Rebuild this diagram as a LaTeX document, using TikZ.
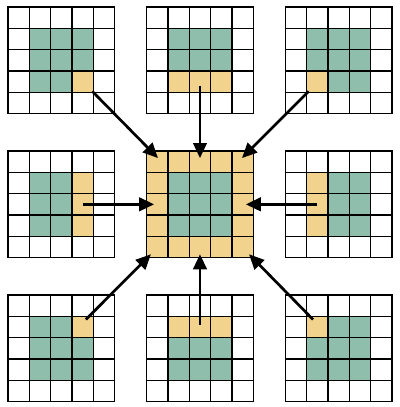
\documentclass[tikz,border=0pt]{standalone}
\usepackage{tikz}
\usetikzlibrary{arrows.meta}

\definecolor{patchgreen}{RGB}{144,190,172}
\definecolor{patchyellow}{RGB}{242,211,141}

% 5x5 grid lines of a patch
\newcommand{\PatchLines}{%
  \foreach \t in {0,...,5} {
    \draw[GridStyle] (\t,0) -- (\t,5);
    \draw[GridStyle] (0,\t) -- (5,\t);
  }}

% one 5x5 patch: origin, yellow cells, name of the arrow start, start point
\newcommand{\Patch}[5]{%
  \begin{scope}[shift={(#1,#2)}]
    \fill[patchgreen] (1,1) rectangle (4,4);
    \foreach \i/\j in {#3} \fill[patchyellow] (\i,\j) rectangle ++(1,1);
    \PatchLines
    \coordinate (#4) at (#5);
  \end{scope}}

\begin{document}
\begin{tikzpicture}[x=0.5cm,y=0.5cm]
            \tikzset{GridStyle/.style={draw=black,line width=0.9pt,line cap=rect}};
            \tikzset{ArrowStyle/.style={line width=1.8pt,-{Triangle[length=10pt,width=9pt]}}};
            \useasboundingbox (0,0) rectangle (18.75,19.08);

            \Patch{0.375}{13.75}{3/1}{p-tl}{3.95,1.05};
            \Patch{6.875}{13.75}{1/1,2/1,3/1}{p-tm}{2.5,1.3};
            \Patch{13.375}{13.75}{1/1}{p-tr}{1.1,1.05};
            \Patch{0.375}{7.0}{3/1,3/2,3/3}{p-ml}{3.5,2.5};
            \Patch{13.375}{7.0}{1/1,1/2,1/3}{p-mr}{1.5,2.5};
            \Patch{0.375}{0.25}{3/3}{p-bl}{3.65,3.85};
            \Patch{6.875}{0.25}{1/3,2/3,3/3}{p-bm}{2.5,3.6};
            \Patch{13.375}{0.25}{1/3}{p-br}{1.3,3.85};

            % centre patch
            \begin{scope}[shift={(6.875,7.0)}]
              \fill[patchyellow] (0,0) rectangle (5,5);
              \fill[patchgreen] (1,1) rectangle (4,4);
              \PatchLines
              \coordinate (c-tl) at (0.53,4.67);
              \coordinate (c-tm) at (2.5,4.67);
              \coordinate (c-tr) at (4.47,4.67);
              \coordinate (c-ml) at (0.35,2.5);
              \coordinate (c-mr) at (4.65,2.5);
              \coordinate (c-bl) at (0.2,0.16);
              \coordinate (c-bm) at (2.5,0.16);
              \coordinate (c-br) at (4.8,0.16);
            \end{scope}

            \foreach \k in {tl,tm,tr,ml,mr,bl,bm,br}
              \draw[ArrowStyle] (p-\k) -- (c-\k);
\end{tikzpicture}
\end{document}
